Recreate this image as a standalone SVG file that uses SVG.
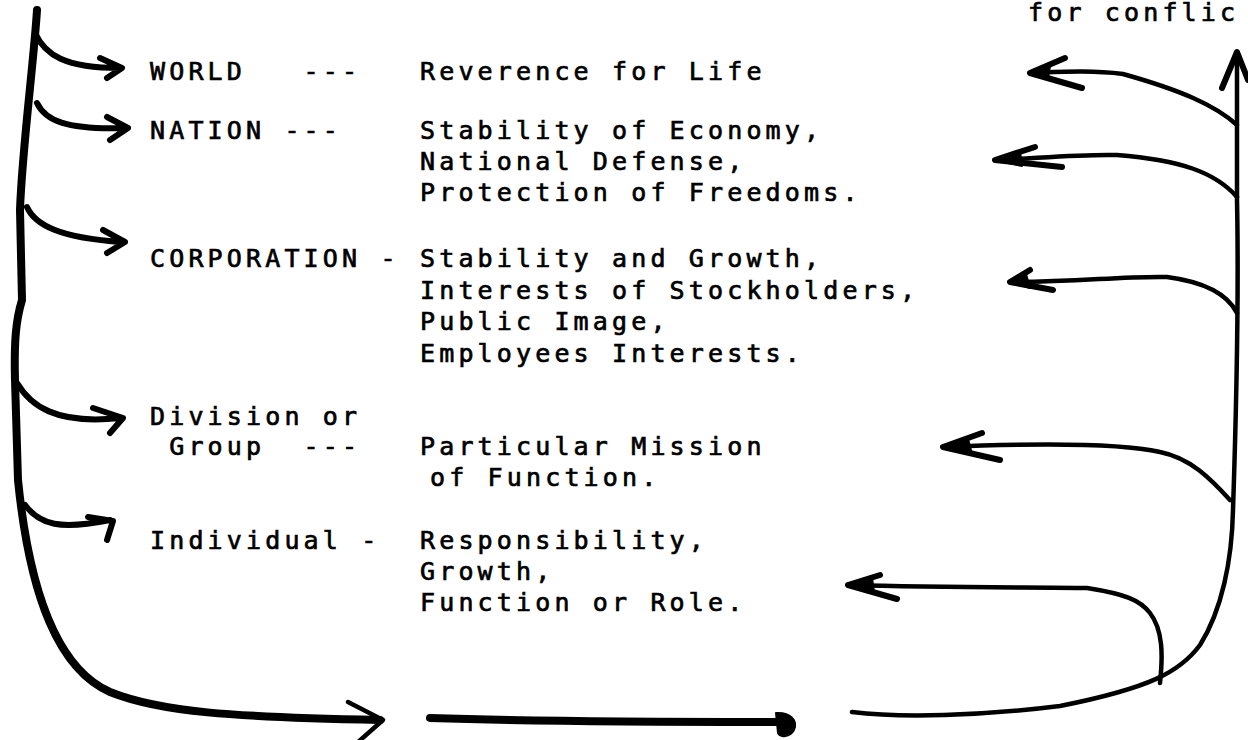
<svg xmlns="http://www.w3.org/2000/svg" width="1248" height="740" viewBox="0 0 1248 740">
<style>
text{font-family:"DejaVu Sans Mono","Liberation Mono",monospace;font-size:25px;letter-spacing:4.15px;fill:#000;stroke:#000;stroke-width:0.7px;white-space:pre}
.ln{fill:none;stroke:#000;stroke-linecap:round;stroke-linejoin:round}
.w8{stroke-width:8}.w6{stroke-width:6}.w5{stroke-width:4.5}
.hd{fill:#000;stroke:#000;stroke-width:2;stroke-linejoin:round}
</style>
<rect width="1248" height="740" fill="#fff"/>
<text x="1028" y="21">for conflic</text>
<g id="world"><text x="150" y="80" xml:space="preserve">WORLD   ---</text><text x="420" y="80">Reverence for Life</text></g>
<g id="nation"><text x="150" y="139" xml:space="preserve">NATION ---</text><text x="420" y="139">Stability of Economy,</text><text x="420" y="170">National Defense,</text><text x="420" y="201">Protection of Freedoms.</text></g>
<g id="corporation"><text x="150" y="267" xml:space="preserve">CORPORATION -</text><text x="420" y="267">Stability and Growth,</text><text x="420" y="299">Interests of Stockholders,</text><text x="420" y="330">Public Image,</text><text x="420" y="362">Employees Interests.</text></g>
<g id="division"><text x="150" y="425">Division or</text><text x="150" y="455" xml:space="preserve"> Group  ---</text><text x="420" y="455">Particular Mission</text><text x="430" y="486">of Function.</text></g>
<g id="individual"><text x="150" y="549" xml:space="preserve">Individual -</text><text x="420" y="549">Responsibility,</text><text x="420" y="580">Growth,</text><text x="420" y="611">Function or Role.</text></g>
<g id="connectors">
<path class="ln w8" d="M37,10 C34,60 22,150 20,210 L22,300 C16,320 14,340 15,380 L18,480 C30,600 60,670 110,692 C160,712 230,717 380,720"/>
<path class="ln w6" d="M35,33 C45,55 65,68 120,68 M100,58 L122,68 L107,78"/>
<path class="ln w6" d="M37,103 C45,120 65,130 125,128 M107,117 L128,128 L110,140"/>
<path class="ln w6" d="M27,207 C35,225 60,238 122,242 M103,230 L125,242 L107,253"/>
<path class="ln w6" d="M17,383 C30,405 55,425 120,418 M93,408 L123,418 L110,433"/>
<path class="ln w6" d="M25,505 C40,525 60,530 110,520 M88,517 L113,521 L107,540"/>
<path class="ln w5" d="M348,702 L383,720 L357,743"/>
<path class="ln w8" d="M430,718 C550,722 700,722 780,722"/>
<path class="hd" d="M776,713 C790,712 798,720 794,730 C790,737 780,738 778,733 Z"/>
<path class="ln w5" d="M1237,52 L1237,200 C1239,300 1236,420 1233,510 C1232,560 1222,610 1200,645 C1180,672 1150,688 1060,706 C980,716 900,718 852,712"/>
<path class="ln w6" d="M1222,88 L1237,52 L1248,80"/>
<path class="ln w5" d="M1237,125 C1215,105 1180,90 1123,74 C1090,70 1060,72 1030,73"/>
<path class="ln w6" d="M1065,58 L1030,73 L1082,88"/>
<path class="hd" d="M1030,73 L1050,66 L1048,78 Z"/>
<path class="ln w5" d="M1237,197 C1215,172 1180,160 1117,155 C1080,154 1040,158 995,160"/>
<path class="ln w6" d="M1035,147 L995,160 L1062,167"/>
<path class="hd" d="M995,160 L1020,152 L1022,166 Z"/>
<path class="ln w5" d="M1237,313 C1228,295 1205,282 1167,277 C1120,276 1080,282 1010,282"/>
<path class="ln w6" d="M1030,270 L1010,282 L1053,290"/>
<path class="hd" d="M1010,282 L1026,274 L1030,288 Z"/>
<path class="ln w5" d="M1230,500 C1210,478 1190,458 1160,452 C1120,443 1040,443 943,447"/>
<path class="ln w6" d="M982,433 L943,447 L1000,460"/>
<path class="hd" d="M943,447 L968,439 L972,454 Z"/>
<path class="ln w5" d="M1160,683 C1163,655 1163,630 1150,613 C1140,600 1125,594 1087,588 C1040,587 950,588 848,585"/>
<path class="ln w6" d="M880,575 L848,585 L897,599"/>
<path class="hd" d="M848,585 L872,578 L874,592 Z"/>
</g>
</svg>
